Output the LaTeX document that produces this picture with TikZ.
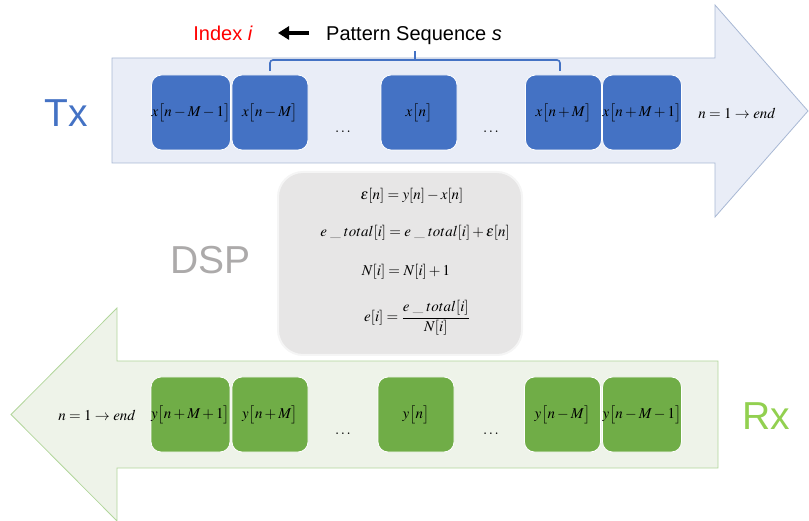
\documentclass[tikz,border=0pt]{standalone}
\usepackage{mathptmx}
\usepackage[no-math]{fontspec}
\newfontfamily\arial{Liberation Sans}
\usetikzlibrary{arrows.meta}
\definecolor{txblue}{HTML}{4472C4}
\definecolor{rxgreen}{HTML}{70AD47}
\definecolor{rxtext}{HTML}{92D050}
\definecolor{dsptext}{RGB}{172,170,170}
\definecolor{dspfill}{RGB}{231,230,230}
\definecolor{txfill}{RGB}{233,237,247}
\definecolor{txedge}{RGB}{168,184,212}
\definecolor{rxfill}{RGB}{238,243,233}
\definecolor{rxedge}{RGB}{178,214,156}
\newcommand{\etot}{e\;\_\;total}
\tikzset{
  seqbox/.style={draw=white, line width=0.8pt, rounded corners=10pt,
    minimum width=76pt, minimum height=75pt, inner sep=0pt,
    font=\fontsize{15}{18}\selectfont, text=black},
  txbox/.style={seqbox, fill=txblue},
  rxbox/.style={seqbox, fill=rxgreen},
  mathlbl/.style={inner sep=0pt, font=\fontsize{15}{18}\selectfont, text=black},
  dotslbl/.style={inner sep=0pt, anchor=base, font=\fontsize{15}{18}\selectfont},
  biglbl/.style={inner sep=0pt, font=\arial\fontsize{39}{44}\selectfont},
  toplbl/.style={inner sep=0pt, font=\arial\fontsize{20}{24}\selectfont},
  dspbox/.style={draw=white!96!black, line width=2pt, fill=dspfill,
    rounded corners=25pt, minimum width=244pt, minimum height=183pt},
}
\begin{document}
\begin{tikzpicture}[x=1pt,y=-1pt]
\useasboundingbox (0,0) rectangle (809,521);

% Tx arrow
\draw[fill=txfill, draw=txedge, line width=0.8pt]
  (112,58) -- (715,58) -- (715,5) -- (808,111) -- (715,217) -- (715,163) -- (112,163) -- cycle;
% Rx arrow
\draw[fill=rxfill, draw=rxedge, line width=0.8pt]
  (718,361) -- (117,361) -- (117,308) -- (11,414.5) -- (117,521) -- (117,468) -- (718,468) -- cycle;

% top labels
\node[toplbl, anchor=base east, text=red] (idx) at (253,41) {Index \textit{i}};
\node[toplbl, anchor=base west, text=black] (pat) at (326,41) {Pattern Sequence \textit{s}};
\coordinate (arrT) at (309,33);
\coordinate (arrH) at (278,33);
\draw[line width=4pt, -{Triangle[width=13pt,length=11pt]}] (arrT) -- (arrH);

% brace
\draw[txblue, line width=1.6pt, rounded corners=3pt]
  (270,71) -- (270,60) -- (560,60) -- (560,71);
\draw[txblue, line width=1.6pt] (415,60) -- (415,51);

% side labels
\node[biglbl, text=txblue] (tx) at (66,113) {Tx};
\node[biglbl, text=dsptext] (dsplbl) at (210.5,260.5) {DSP};
\node[biglbl, text=rxtext] (rx) at (766.5,416.5) {Rx};

% Tx boxes
\node[txbox] (tx1) at (191,112.5) {$x\big[n-M-1\big]$};
\node[txbox] (tx2) at (270,112.5) {$x\big[n-M\big]$};
\node[txbox] (tx3) at (419,112.5) {$x\big[n\big]$};
\node[txbox] (tx4) at (563.5,112.5) {$x\big[n+M\big]$};
\node[txbox] (tx5) at (642,112.5) {$x\big[n+M+1\big]$};
\node[dotslbl] (txd1) at (343,133) {$\ldots$};
\node[dotslbl] (txd2) at (491,133) {$\ldots$};
\node[mathlbl] (txend) at (737,113) {$n=1\rightarrow end$};

% Rx boxes
\node[rxbox] (rx1) at (190.5,414.5) {$y\big[n+M+1\big]$};
\node[rxbox] (rx2) at (270,414.5) {$y\big[n+M\big]$};
\node[rxbox] (rx3) at (416,414.5) {$y\big[n\big]$};
\node[rxbox] (rx4) at (562.5,414.5) {$y\big[n-M\big]$};
\node[rxbox] (rx5) at (642,414.5) {$y\big[n-M-1\big]$};
\node[dotslbl] (rxd1) at (343,435) {$\ldots$};
\node[dotslbl] (rxd2) at (491,435) {$\ldots$};
\node[mathlbl] (rxend) at (97,415) {$n=1\rightarrow end$};

% DSP box
\node[dspbox] (dsp) at (400,263.5) {};
\node[mathlbl] (eq1) at (412,196) {$\varepsilon[n]=y[n]-x[n]$};
\node[mathlbl] (eq2) at (415,233) {$\etot[i]=\etot[i]+\varepsilon[n]$};
\node[mathlbl] (eq3) at (406,272) {$N[i]=N[i]+1$};
\node[mathlbl] (eq4) at (417,318) {$\displaystyle e[i]=\frac{\etot[i]}{N[i]}$};
\end{tikzpicture}
\end{document}
